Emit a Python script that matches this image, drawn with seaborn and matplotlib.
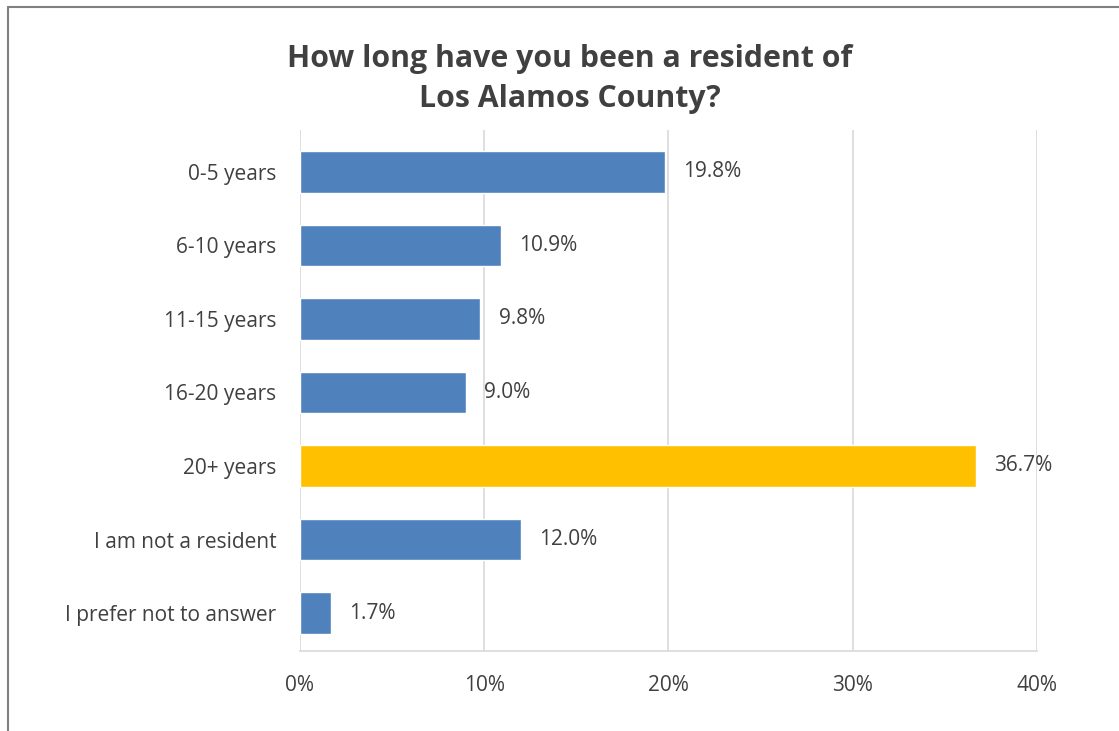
import matplotlib
matplotlib.use("Agg")
import matplotlib.pyplot as plt
import matplotlib.ticker as mticker
from matplotlib.lines import Line2D
import seaborn as sns
import pandas as pd

categories = ["0-5 years", "6-10 years", "11-15 years", "16-20 years",
              "20+ years", "I am not a resident", "I prefer not to answer"]
percent = [19.8, 10.9, 9.8, 9.0, 36.7, 12.0, 1.7]
bar_colors = ["#4F81BD", "#4F81BD", "#4F81BD", "#4F81BD",
              "#FFC000", "#4F81BD", "#4F81BD"]
x_ticks = [0, 10, 20, 30, 40]

title = "How long have you been a resident of\nLos Alamos County?"

sns.set_theme(style="white")
plt.rcParams["font.family"] = ["Open Sans", "DejaVu Sans"]

text_color = "#404040"
grid_color = "#D9D9D9"

df = pd.DataFrame({"category": categories, "percent": percent})

fig = plt.figure(figsize=(11.19, 7.31), dpi=100)
ax = fig.add_axes([0.268, 0.1094, 0.6587, 0.7128])

sns.barplot(data=df, x="percent", y="category", hue="category",
            palette=bar_colors, order=categories, hue_order=categories,
            orient="h", width=0.56, legend=False, ax=ax, saturation=1)

ax.set_xlim(0, 40)
ax.set_ylim(6.517, -0.571)
ax.set_xticks(x_ticks)
ax.xaxis.set_major_formatter(mticker.FuncFormatter(lambda v, p: f"{v:.0f}%"))
ax.set_xlabel("")
ax.set_ylabel("")

ax.grid(axis="x", color=grid_color, linewidth=1.2)
ax.set_axisbelow(True)
for side in ["top", "right", "left"]:
    ax.spines[side].set_visible(False)
ax.spines["bottom"].set_color(grid_color)
ax.spines["bottom"].set_linewidth(1.2)

ax.tick_params(axis="x", length=0, pad=17, labelsize=15, labelcolor=text_color)
ax.tick_params(axis="y", length=0, pad=17, labelsize=15, labelcolor=text_color)

for container in ax.containers:
    ax.bar_label(container, labels=[f"{v:.1f}%" for v in container.datavalues],
                 padding=13, fontsize=15, color=text_color)

fig.text(0.509, 0.892, title, ha="center", va="center", fontsize=21.8,
         fontweight="bold", color=text_color, linespacing=1.45)

# chart-area border (top and left edges)
fig.add_artist(Line2D([8 / 1119, 1.0], [1 - 7 / 731, 1 - 7 / 731],
                      transform=fig.transFigure, color="#808080", linewidth=1.5))
fig.add_artist(Line2D([8 / 1119, 8 / 1119], [0.0, 1 - 7 / 731],
                      transform=fig.transFigure, color="#808080", linewidth=1.5))

fig.savefig("out.png", dpi=100, facecolor="white")
